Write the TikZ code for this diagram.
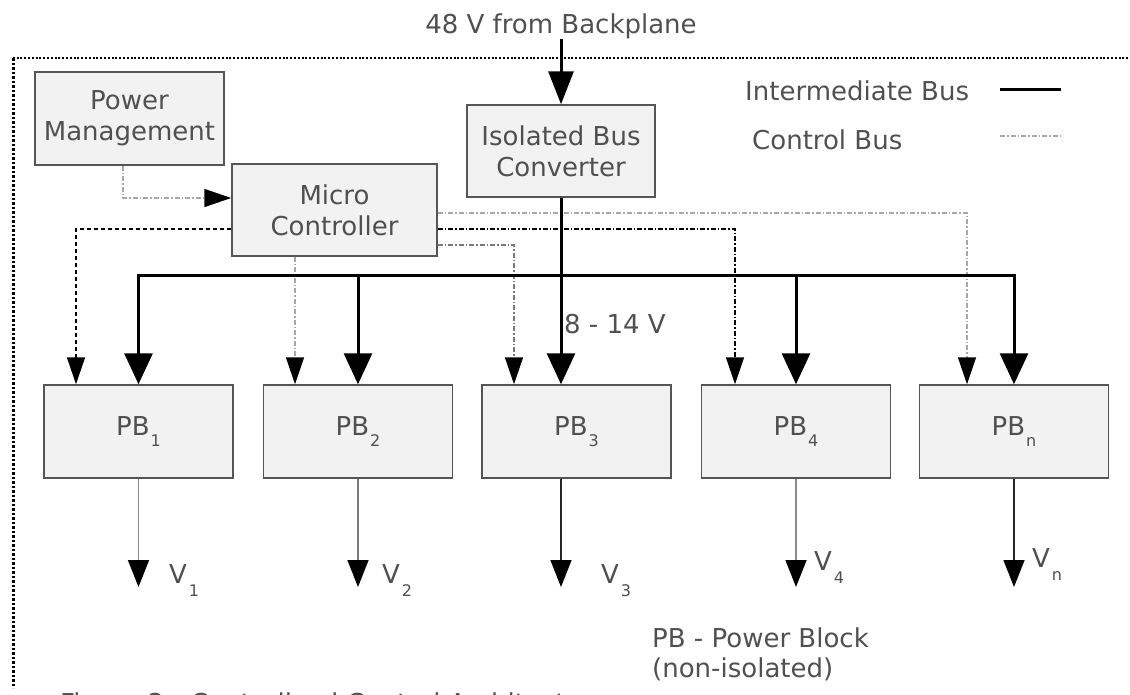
\documentclass[tikz,border=0pt]{standalone}
\usepackage{fontspec}
\setmainfont{DejaVu Sans}
\usetikzlibrary{arrows.meta}
\definecolor{txt}{HTML}{505050}
\definecolor{boxfill}{HTML}{F2F2F2}
\definecolor{boxline}{HTML}{555555}
\definecolor{ctlgray}{HTML}{A8A8A8}
\definecolor{ctlmid}{HTML}{7A7A7A}
\definecolor{outgray}{HTML}{8A8A8A}
\newcommand{\lblfont}{\fontsize{26}{31}\selectfont}
\newcommand{\pbsub}[1]{\kern1pt\raisebox{-11pt}{\fontsize{16}{16}\selectfont #1}}
\newcommand{\vsub}[1]{\kern2pt\raisebox{-13pt}{\fontsize{16}{16}\selectfont #1}}
\begin{document}
\begin{tikzpicture}[x=1pt,y=-1pt,
  blockbox/.style={draw=boxline, fill=boxfill, line width=1.5pt, inner sep=0pt, align=center, font=\lblfont, text=txt},
  pbbox/.style={blockbox, minimum width=189pt, minimum height=93pt},
  lbl/.style={font=\lblfont, text=txt, inner sep=0pt},
  busline/.style={line width=3pt, line join=miter, draw=black},
  bustip/.style={-{Triangle[length=31pt,width=28pt,color=black]}},
  ctl/.style={line width=1.5pt, dash pattern=on 5pt off 2pt on 1.5pt off 2pt, -{Triangle[length=27pt,width=18pt,color=black]}},
  outl/.style={line width=1.5pt, -{Triangle[length=27pt,width=21pt,color=black]}},
  frametop/.style={line width=2.5pt, dash pattern=on 2pt off 1.8pt, draw=black},
  frameleft/.style={line width=3pt, dash pattern=on 2.5pt off 2pt, draw=black},
]
\useasboundingbox (0,0) rectangle (1130,694);
\clip (0,0) rectangle (1130,694);

% frame
\coordinate (fTR) at (1132,58);
\coordinate (fTL) at (13,58);
\coordinate (fBL) at (13,688);
\draw[frametop] (fTR) -- (fTL);
\draw[frameleft] (fTL) -- (fBL);

% boxes
\node[blockbox, minimum width=189pt, minimum height=93pt] (PM) at (129.5,118.5) {Power\\Management};
\node[blockbox, minimum width=205pt, minimum height=92pt] (MC) at (334.5,210) {Micro\\Controller};
\node[blockbox, minimum width=188pt, minimum height=92pt] (IBC) at (561,151) {Isolated Bus\\Converter};

\node[pbbox] (PB1) at (138.5,431.5) {PB\pbsub{1}};
\node[pbbox] (PB2) at (358,431.5) {PB\pbsub{2}};
\node[pbbox] (PB3) at (576.5,431.5) {PB\pbsub{3}};
\node[pbbox] (PB4) at (796,431.5) {PB\pbsub{4}};
\node[pbbox] (PBn) at (1014,431.5) {PB\pbsub{n}};

% source
\node[lbl, anchor=base] (src) at (561,33) {48 V from Backplane};
\draw[line width=3pt, -{Triangle[length=33pt,width=25pt]}] (IBC.north |- src.south) -- (IBC.north);

% legend
\node[lbl, anchor=base west] (legIB) at (745,100) {Intermediate Bus};
\node[lbl, anchor=base west] (legCB) at (752,149) {Control Bus};
\coordinate (lgA) at (1000,89);
\coordinate (lgB) at (1061,89);
\coordinate (lgC) at (1000,136);
\coordinate (lgD) at (1061,136);
\draw[line width=3pt] (lgA) -- (lgB);
\draw[line width=2pt, ctlgray, dash pattern=on 5pt off 2pt on 1.5pt off 2pt] (lgC) -- (lgD);

% control bus
\draw[ctl, draw=ctlgray] ([xshift=-6.5pt]PM.south) |- ([yshift=12pt]MC.west);
\draw[ctl, draw=black, dash pattern=on 4pt off 3pt] ([yshift=-19pt]MC.west) -| ([xshift=-62.5pt]PB1.north);
\draw[ctl, draw=ctlgray] ([xshift=-63pt]PB2.north |- MC.south) -- ([xshift=-63pt]PB2.north);
\draw[ctl, draw=ctlmid] ([yshift=-35pt]MC.east) -| ([xshift=-62.5pt]PB3.north);
\draw[ctl, draw=black] ([yshift=-19pt]MC.east) -| ([xshift=-61pt]PB4.north);
\draw[ctl, draw=ctlgray] ([yshift=-3pt]MC.east) -| ([xshift=-47pt]PBn.north);

% intermediate bus
\coordinate (busy) at (0,275);
\draw[busline, {Triangle[length=31pt,width=28pt]}-{Triangle[length=31pt,width=28pt]}] (PB1.north) -- (PB1.north |- busy) -- (PBn.north |- busy) -- (PBn.north);
\draw[busline, bustip] (PB2.north |- busy) -- (PB2.north);
\draw[busline, bustip] (PB4.north |- busy) -- (PB4.north);
\draw[busline, bustip] (IBC.south) -- ([xshift=-15.5pt]PB3.north);
\node[lbl, anchor=base west] (v814) at (564,333) {8 - 14 V};

% outputs
\coordinate (outy) at (0,587);
\coordinate (p3s) at ([xshift=-15.5pt]PB3.south);
\draw[outl, draw=outgray] (PB1.south) -- (PB1.south |- outy);
\draw[outl, draw=ctlmid] (PB2.south) -- (PB2.south |- outy);
\draw[outl, draw=black!85] (p3s) -- (p3s |- outy);
\draw[outl, draw=outgray] (PB4.south) -- (PB4.south |- outy);
\draw[outl, draw=black!85] (PBn.south) -- (PBn.south |- outy);

\node[lbl, anchor=base west] (V1) at (169,583) {V\vsub{1}};
\node[lbl, anchor=base west] (V2) at (382,583) {V\vsub{2}};
\node[lbl, anchor=base west] (V3) at (601,583) {V\vsub{3}};
\node[lbl, anchor=base west] (V4) at (814,570) {V\vsub{4}};
\node[lbl, anchor=base west] (Vn) at (1032,567) {V\vsub{n}};

% notes
\node[lbl, anchor=base west] (note1) at (652,647) {PB - Power Block};
\node[lbl, anchor=base west] (note2) at (652,677) {(non-isolated)};
\node[lbl, anchor=base west] (caption) at (60,712) {Figure 2 - Centralized Control Architecture};
\end{tikzpicture}
\end{document}
